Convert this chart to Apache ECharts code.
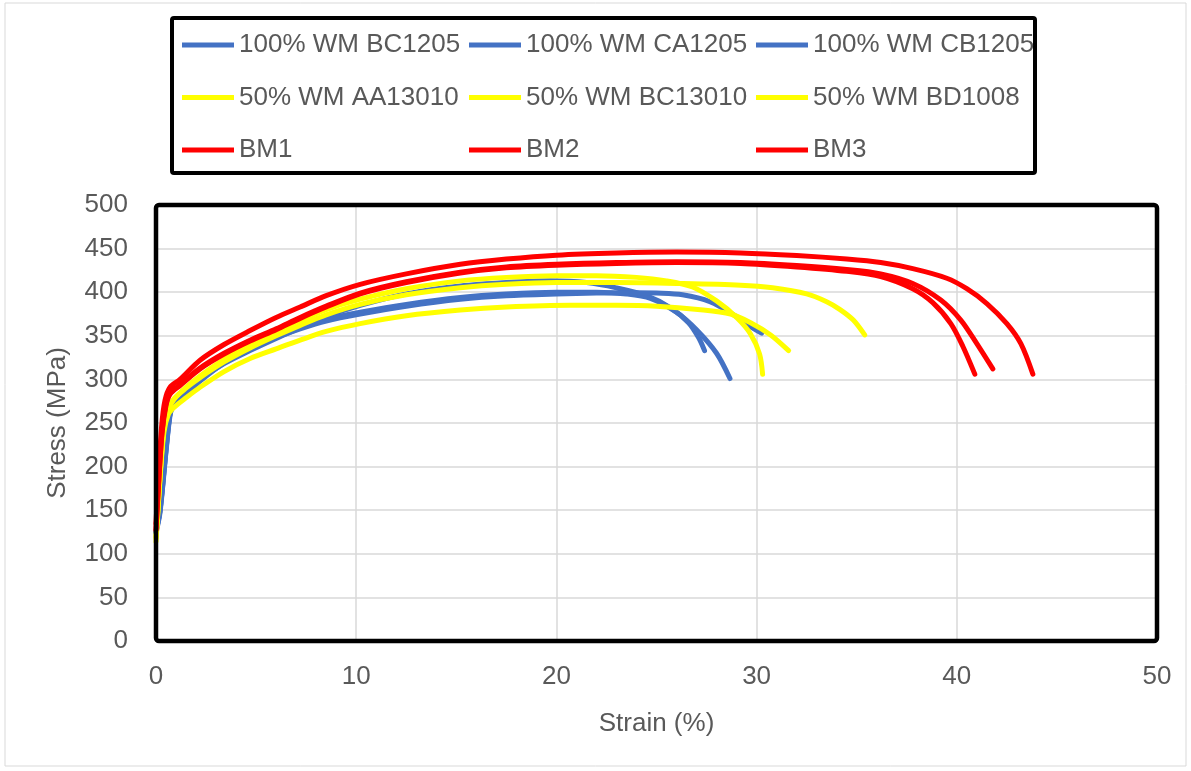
<!DOCTYPE html>
<html>
<head>
<meta charset="utf-8">
<title>Stress-strain curves</title>
<script src="https://cdn.jsdelivr.net/npm/echarts@6/dist/echarts.min.js"></script>
<style>
  html, body { margin: 0; padding: 0; background: #ffffff; }
  #chart { width: 1191px; height: 771px; }
</style>
</head>
<body>
<div id="chart"></div>
<script>
// Tensile test curves: [strain (%), stress (MPa)]
const wmBC1205 = [[0,125],[0.2,150],[0.53,227],[0.73,265],[0.95,274],[1.5,286],[2.2,300],[3.4,318],[4.7,333],[6,347],[7.2,359],[8.5,372],[10.2,385],[12.5,398],[15.2,407],[17.5,411],[19.7,413],[21.5,411],[23,405],[24.5,396],[25.7,382],[26.6,365],[27.1,348],[27.4,333]];
const wmCA1205 = [[0,126],[0.2,149],[0.53,226],[0.73,264],[0.95,274],[1.5,285],[2.2,300],[3.4,321],[4.7,337],[6,350],[7.2,360],[8.5,369],[10.2,377],[12.5,386],[15.2,394],[17.5,398],[20,400],[22,400],[23.5,398],[24.7,393],[26,377],[27,357],[28,330],[28.67,301]];
const wmCB1205 = [[0,124],[0.2,147],[0.53,224],[0.73,262],[0.95,272],[1.5,283],[2.2,298],[3.4,319],[4.7,335],[6,348],[7.2,358],[8.5,367],[10.2,375],[12.5,384],[15.2,392],[17.5,396],[20,398],[22,399],[24,399.5],[25,399],[26.3,397],[27.67,389],[29,372],[29.6,362],[30.25,353]];
const wmAA13010 = [[0,118],[0.1,150],[0.23,200],[0.4,246],[0.62,266],[0.9,277],[1.5,291],[2.2,304],[3.4,323],[4.7,340],[6,355],[7.2,367],[8.5,380],[10.2,392],[12.5,404],[15.2,413],[17.5,417],[20,419],[22,419],[24,417],[25.5,413],[26.8,406],[28,390],[29,371],[29.7,352],[30.15,329],[30.3,306]];
const wmBC13010 = [[0,120],[0.1,155],[0.25,205],[0.42,248],[0.65,268],[0.9,278],[1.5,290],[2.2,302],[3.4,320],[4.7,336],[6,350],[7.2,362],[8.5,374],[10.2,386],[12.5,397],[15.2,405],[17.5,409],[20,411],[23,411],[26,410],[29.2,408],[30.8,405],[32.5,398],[33.5,389],[34.17,380],[34.83,368],[35.4,351]];
const wmBD1008 = [[0,114],[0.03,114],[0.23,196],[0.4,240],[0.62,260],[0.9,268],[1.5,279],[2.2,291],[3.4,309],[4.7,324],[6,335],[7.2,345],[8.5,355],[10.2,364],[12.5,373],[15.2,379.5],[17.5,383],[20.7,385],[23,385],[25,384],[27.2,380],[28.7,375],[29.7,365],[30.7,351],[31.6,333]];
const bm1 = [[0,127],[0.1,168],[0.3,238],[0.5,270],[0.7,283],[1.2,293],[2.2,312],[3.4,329],[4.7,344],[6,357],[7.2,370],[8.5,383],[10.2,398],[12.5,411],[15.2,422],[17.5,428],[20,431],[23,433],[26,434],[29.2,433],[32,429],[34.5,424],[36.2,418],[37.8,404],[38.8,388],[39.7,364],[40.3,338],[40.9,306]];
const bm2 = [[0,128],[0.1,170],[0.3,240],[0.5,272],[0.7,284],[1.2,294],[2.2,313],[3.4,330],[4.7,345],[6,358],[7.2,371],[8.5,384],[10.2,399],[12.5,412],[15.2,423],[17.5,429],[20,432],[23,434],[26,435],[29.2,434],[32,430.5],[34.5,426],[36.2,421],[37.8,410],[39.2,391],[40.2,368],[41,341],[41.8,312]];
const bm3 = [[0,135],[0.1,180],[0.28,246],[0.45,276],[0.7,291],[1.2,300],[2.2,322],[3.4,340],[4.7,356],[6,371],[7.2,383],[8.5,396],[10.2,409],[12.5,421],[15.2,432],[17.5,438],[20,442.5],[23,445],[26,446],[29.2,445],[32,442],[34.5,438],[36.2,434],[37.8,427],[39.5,416],[40.5,404],[41.5,387],[42.5,364],[43.2,341],[43.8,306]];

const seriesNames = ['100% WM BC1205','100% WM CA1205','100% WM CB1205',
                     '50% WM AA13010','50% WM BC13010','50% WM BD1008',
                     'BM1','BM2','BM3'];
const seriesData = [wmBC1205, wmCA1205, wmCB1205, wmAA13010, wmBC13010, wmBD1008, bm1, bm2, bm3];
const seriesColors = ['#4472C4','#4472C4','#4472C4','#FFFF00','#FFFF00','#FFFF00','#FF0000','#FF0000','#FF0000'];

const xTicks = { min: 0, max: 50, interval: 10 };
const yTicks = { min: 0, max: 500, interval: 50 };

const FONT = "'Liberation Sans', Arial, sans-serif";
const TEXT = '#595959';

// plot area in pixels
const PLOT = { left: 156, top: 205, width: 1001, height: 436 };

function legendColumn(names, left) {
  return {
    orient: 'vertical',
    left: left,
    top: 30,
    padding: 0,
    itemGap: 22.5,
    itemWidth: 52,
    itemHeight: 5,
    icon: 'rect',
    selectedMode: false,
    data: names,
    textStyle: { fontFamily: FONT, fontSize: 26, color: TEXT, lineHeight: 30 }
  };
}

const chart = echarts.init(document.getElementById('chart'), null, { renderer: 'canvas' });
chart.setOption({
  animation: false,
  backgroundColor: '#ffffff',
  graphic: [
    { type: 'rect', shape: { x: 5, y: 3, width: 1181, height: 763 },
      style: { fill: 'none', stroke: '#d9d9d9', lineWidth: 1 }, z: -1 },
    { type: 'rect', shape: { x: 172, y: 18, width: 863, height: 155, r: 2 },
      style: { fill: 'none', stroke: '#000000', lineWidth: 4 } },
    // heavy frame round the plot area
    { type: 'rect', shape: { x: PLOT.left, y: PLOT.top, width: PLOT.width, height: PLOT.height, r: 3 },
      style: { fill: 'none', stroke: '#000000', lineWidth: 4.5 }, z: 100 }
  ],
  legend: [
    legendColumn([seriesNames[0], seriesNames[3], seriesNames[6]], 182),
    legendColumn([seriesNames[1], seriesNames[4], seriesNames[7]], 469),
    legendColumn([seriesNames[2], seriesNames[5], seriesNames[8]], 756)
  ],
  grid: {
    left: PLOT.left, top: PLOT.top, width: PLOT.width, height: PLOT.height,
    show: false, containLabel: false
  },
  xAxis: {
    type: 'value', min: xTicks.min, max: xTicks.max, interval: xTicks.interval,
    name: 'Strain (%)', nameLocation: 'middle', nameGap: 70,
    nameTextStyle: { fontFamily: FONT, fontSize: 26, color: TEXT },
    axisLine: { show: false }, axisTick: { show: false },
    axisLabel: { fontFamily: FONT, fontSize: 26, color: TEXT, margin: 23 },
    splitLine: { show: true, lineStyle: { color: '#d9d9d9', width: 1.5 } }
  },
  yAxis: {
    type: 'value', min: yTicks.min, max: yTicks.max, interval: yTicks.interval,
    name: 'Stress (MPa)', nameLocation: 'middle', nameGap: 85,
    nameTextStyle: { fontFamily: FONT, fontSize: 26, color: TEXT },
    axisLine: { show: false }, axisTick: { show: false },
    axisLabel: { fontFamily: FONT, fontSize: 26, color: TEXT, margin: 28 },
    splitLine: { show: true, lineStyle: { color: '#d9d9d9', width: 1.5 } }
  },
  series: seriesNames.map((name, i) => ({
    name: name,
    type: 'line',
    data: seriesData[i],
    showSymbol: false,
    symbol: 'none',
    smooth: 0.3,
    color: seriesColors[i],
    lineStyle: { width: 5, color: seriesColors[i], cap: 'round', join: 'round' },
    itemStyle: { color: seriesColors[i] }
  }))
});
</script>
</body>
</html>
